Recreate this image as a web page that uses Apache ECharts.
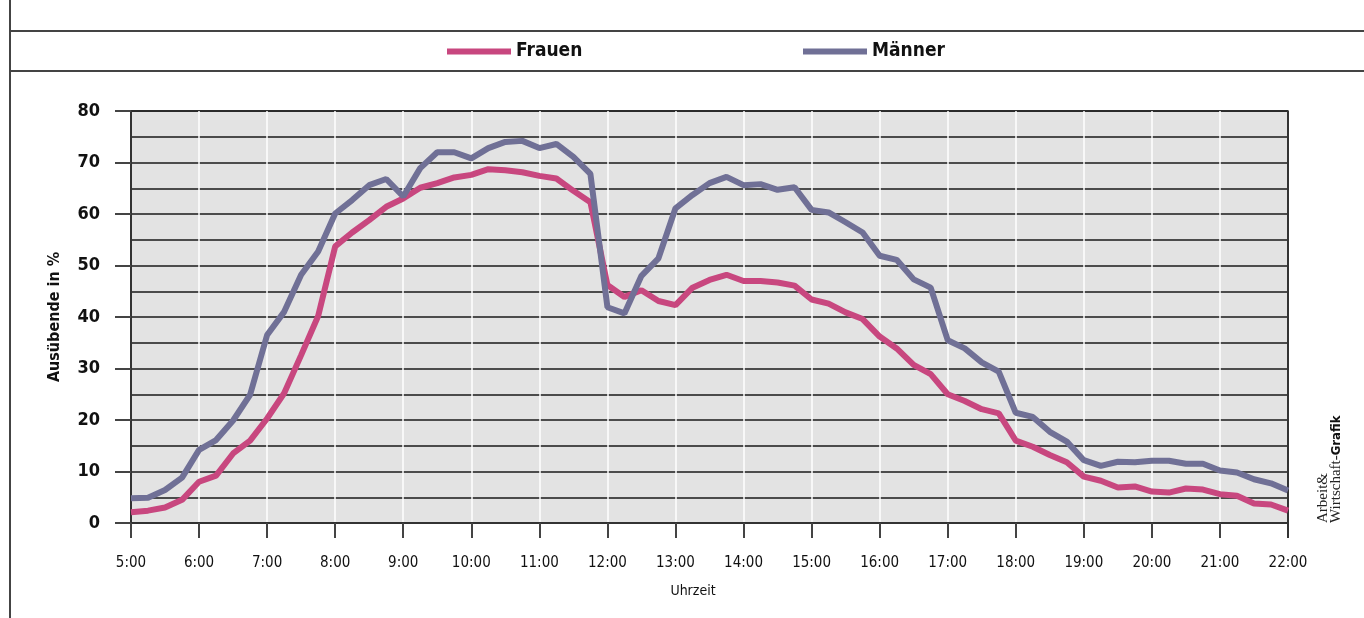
<!DOCTYPE html>
<html>
<head>
<meta charset="utf-8">
<script src="https://cdn.jsdelivr.net/npm/echarts@6/dist/echarts.min.js"></script>
<style>
html,body{margin:0;padding:0;background:#fff;}
#c{width:1364px;height:618px;}
</style>
</head>
<body>
<div id="c"></div>
<script>
// 15-minute steps from 5:00 to 22:00
var hours = [5,6,7,8,9,10,11,12,13,14,15,16,17,18,19,20,21,22];
var quarters = ['00','15','30','45'];
var categories = [];
hours.forEach(function(h, idx){
  quarters.forEach(function(q, qi){
    if (idx === hours.length - 1 && qi > 0) return;
    categories.push(h + ':' + q);
  });
});

var frauen = [2.1,2.4,3.0,4.5,8.0,9.2,13.5,16.0,20.3,25.2,32.6,40.2,53.7,56.4,58.8,61.4,63.0,
  65.1,66.0,67.1,67.6,68.7,68.5,68.1,67.4,66.9,64.5,62.3,46.2,43.9,45.2,43.1,42.3,45.7,47.2,
  48.2,47.0,47.0,46.7,46.1,43.4,42.6,40.9,39.6,36.2,33.9,30.7,28.9,25.0,23.7,22.1,21.3,16.0,
  14.8,13.2,11.8,9.0,8.2,6.9,7.1,6.1,5.9,6.7,6.5,5.6,5.3,3.8,3.6,2.4];

var maenner = [4.8,4.9,6.4,8.8,14.2,16.1,19.9,24.9,36.5,41.0,48.2,52.7,60.1,62.7,65.6,66.8,63.4,
  68.9,72.0,72.0,70.8,72.8,74.0,74.2,72.8,73.6,71.1,67.8,41.9,40.7,48.0,51.4,61.1,63.7,66.0,
  67.2,65.6,65.8,64.7,65.2,60.8,60.3,58.4,56.4,51.9,51.1,47.3,45.7,35.5,33.9,31.2,29.4,21.4,
  20.6,17.7,15.8,12.2,11.1,11.9,11.8,12.1,12.1,11.5,11.5,10.2,9.8,8.5,7.7,6.3];

var yTicks = [0,10,20,30,40,50,60,70,80];

var NARROW = '"Liberation Sans Narrow","DejaVu Sans Condensed","Roboto Condensed",sans-serif';
var COL_F = '#c8477f';
var COL_M = '#707096';

var chart = echarts.init(document.getElementById('c'), null, {renderer:'canvas'});
chart.setOption({
  animation: false,
  backgroundColor: '#ffffff',
  legend: [
    {data:['Frauen'], left:447, top:42, padding:0, icon:'rect', itemWidth:64, itemHeight:6,
     textStyle:{fontFamily:NARROW, fontWeight:'bold', fontSize:19, color:'#111'}, itemGap:0},
    {data:['Männer'], left:803, top:42, padding:0, icon:'rect', itemWidth:64, itemHeight:6,
     textStyle:{fontFamily:NARROW, fontWeight:'bold', fontSize:19, color:'#111'}, itemGap:0}
  ],
  grid: {left:131, right:76, top:111, bottom:95, show:true, backgroundColor:'#e3e3e3',
         borderColor:'#333', borderWidth:1.5, containLabel:false},
  xAxis: {
    type:'category', data:categories, boundaryGap:false,
    axisLine:{show:true, lineStyle:{color:'#333', width:2}},
    axisTick:{show:true, interval:3, length:15, lineStyle:{color:'#444', width:2}},
    axisLabel:{interval:3, margin:33, fontFamily:NARROW, fontSize:15, color:'#111'},
    splitLine:{show:true, interval:3, lineStyle:{color:'#ffffff', width:1.5}}
  },
  yAxis: {
    type:'value', min:0, max:80, interval:10,
    name:'Ausübende in %', nameLocation:'middle', nameGap:68, nameRotate:90,
    nameTextStyle:{fontFamily:NARROW, fontWeight:'bold', fontSize:16, color:'#111'},
    axisLine:{show:true, lineStyle:{color:'#333', width:2}},
    axisTick:{show:true, length:16, lineStyle:{color:'#444', width:2}},
    axisLabel:{margin:31, fontFamily:NARROW, fontWeight:'bold', fontSize:18, color:'#111',
      formatter:function(v){ return yTicks.indexOf(v) >= 0 ? String(v) : ''; }},
    splitLine:{show:true, lineStyle:{color:'#1a1a1a', width:1.5}},
    minorTick:{show:false, splitNumber:2},
    minorSplitLine:{show:true, lineStyle:{color:'#1a1a1a', width:1.5}}
  },
  series: [
    {name:'Frauen', type:'line', data:frauen, showSymbol:false, symbol:'none',
     lineStyle:{color:COL_F, width:6}, itemStyle:{color:COL_F}, z:3},
    {name:'Männer', type:'line', data:maenner, showSymbol:false, symbol:'none',
     lineStyle:{color:COL_M, width:6}, itemStyle:{color:COL_M}, z:4}
  ],
  graphic: [
    {type:'line', shape:{x1:10, y1:0, x2:10, y2:618}, style:{stroke:'#444', lineWidth:2}},
    {type:'line', shape:{x1:10, y1:31, x2:1364, y2:31}, style:{stroke:'#444', lineWidth:2}},
    {type:'line', shape:{x1:10, y1:71, x2:1364, y2:71}, style:{stroke:'#444', lineWidth:2}},
    {type:'line', z:1, shape:{x1:1288, y1:111, x2:1288, y2:538}, style:{stroke:'#333', lineWidth:2}},
    {type:'text', x:693, y:591, style:{text:'Uhrzeit', fontFamily:NARROW, fontSize:14, fill:'#111',
      textAlign:'center', textVerticalAlign:'middle'}},
    {type:'text', x:1343, y:523, rotation:Math.PI/2,
     style:{text:'{s|Arbeit&}\n{s|Wirtschaft-}{b|Grafik}', textAlign:'left', textVerticalAlign:'bottom',
       rich:{
         s:{fontFamily:'"Liberation Serif","DejaVu Serif",serif', fontSize:15, fill:'#222', lineHeight:13},
         b:{fontFamily:NARROW, fontWeight:'bold', fontSize:13, fill:'#111', lineHeight:13}
       }}}
  ]
});
</script>
</body>
</html>
